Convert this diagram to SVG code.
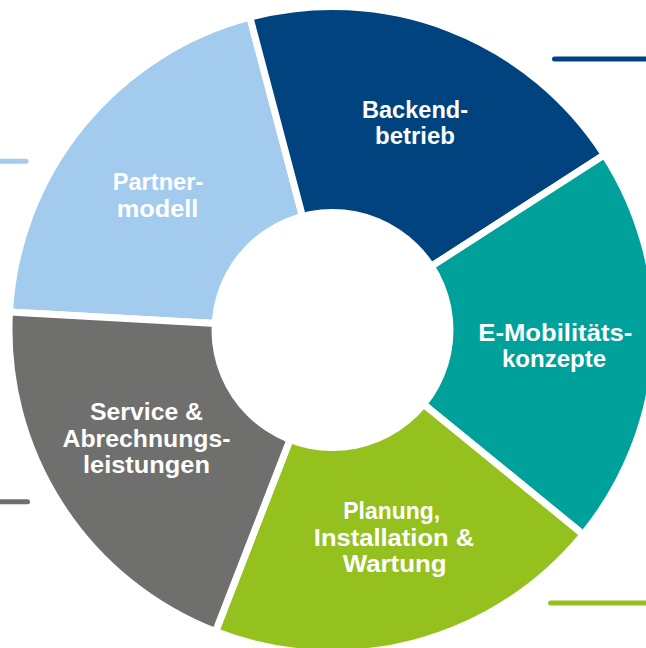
<svg xmlns="http://www.w3.org/2000/svg" width="646" height="648" viewBox="0 0 646 648">
<style>
.seg{stroke:#ffffff;stroke-width:7;stroke-linejoin:miter}
.lbl{font-family:"Liberation Sans",Arial,sans-serif;font-weight:bold;font-size:23.5px;fill:#ffffff;text-anchor:middle}
.lead{stroke-width:5;stroke-linecap:round;fill:none}
</style>
<rect width="646" height="648" fill="#ffffff"/>
<g id="partner">
<path class="seg" fill="#a3cbee" d="M332.5 330 L9.5 311.94 A323.5 323.5 0 0 1 249.86 17.23 Z"/>
</g>
<g id="backend">
<path class="seg" fill="#00437f" d="M332.5 330 L249.86 17.23 A323.5 323.5 0 0 1 604.42 154.76 Z"/>
</g>
<g id="emob">
<path class="seg" fill="#00a19a" d="M332.5 330 L604.42 154.76 A323.5 323.5 0 0 1 583.19 534.46 Z"/>
</g>
<g id="planung">
<path class="seg" fill="#95c11f" d="M332.5 330 L583.19 534.46 A323.5 323.5 0 0 1 215.52 631.61 Z"/>
</g>
<g id="service">
<path class="seg" fill="#6f6f6e" d="M332.5 330 L215.52 631.61 A323.5 323.5 0 0 1 9.5 311.94 Z"/>
</g>
<circle cx="332.5" cy="330" r="121" fill="#ffffff"/>
<g id="labels">
<text class="lbl" x="415" y="117.5" textLength="106" lengthAdjust="spacingAndGlyphs">Backend-</text>
<text class="lbl" x="415" y="143.5" textLength="80" lengthAdjust="spacingAndGlyphs">betrieb</text>
<text class="lbl" x="158" y="190" textLength="90.5" lengthAdjust="spacingAndGlyphs">Partner-</text>
<text class="lbl" x="157.5" y="216.5" textLength="81.5" lengthAdjust="spacingAndGlyphs">modell</text>
<text class="lbl" x="555.3" y="341" textLength="154" lengthAdjust="spacingAndGlyphs">E-Mobilitäts-</text>
<text class="lbl" x="554" y="366.7" textLength="104" lengthAdjust="spacingAndGlyphs">konzepte</text>
<text class="lbl" x="391.7" y="519" textLength="96.7" lengthAdjust="spacingAndGlyphs">Planung,</text>
<text class="lbl" x="394" y="546" textLength="160.3" lengthAdjust="spacingAndGlyphs">Installation &amp;</text>
<text class="lbl" x="394.7" y="571.5" textLength="104" lengthAdjust="spacingAndGlyphs">Wartung</text>
<text class="lbl" x="146.5" y="420" textLength="113" lengthAdjust="spacingAndGlyphs">Service &amp;</text>
<text class="lbl" x="146.5" y="446.5" textLength="168" lengthAdjust="spacingAndGlyphs">Abrechnungs-</text>
<text class="lbl" x="146.5" y="473" textLength="127" lengthAdjust="spacingAndGlyphs">leistungen</text>
</g>
<g id="connectors">
<line class="lead" stroke="#00437f" x1="554.5" y1="59" x2="652" y2="59"/>
<line class="lead" stroke="#a3cbee" x1="-6" y1="161.3" x2="26" y2="161.3"/>
<line class="lead" stroke="#6f6f6e" x1="-6" y1="501.7" x2="27.5" y2="501.7"/>
<line class="lead" stroke="#95c11f" x1="550.5" y1="603" x2="652" y2="603"/>
</g>
</svg>
